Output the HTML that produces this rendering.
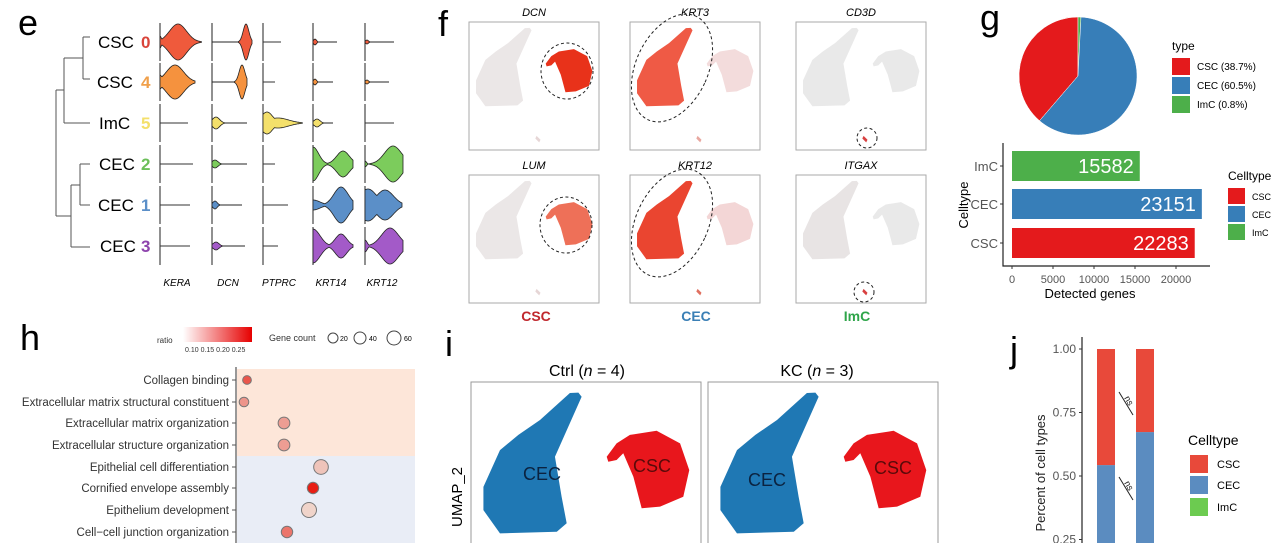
<!DOCTYPE html>
<html><head><meta charset="utf-8">
<style>
html,body{margin:0;padding:0;background:#fff;width:1280px;height:543px;overflow:hidden;}
svg{display:block;font-family:"Liberation Sans",sans-serif;overflow:hidden;}
</style></head>
<body>
<svg id="fig" width="1280" height="543" viewBox="0 0 1280 543" xmlns="http://www.w3.org/2000/svg">
<defs>
 <linearGradient id="ratioGrad" x1="0" x2="1" y1="0" y2="0"><stop offset="0" stop-color="#fff"/><stop offset="1" stop-color="#e60000"/></linearGradient>
 <path id="cecShape" d="M0.467,0.046 L0.481,0.064 L0.365,0.325 L0.394,0.499 L0.416,0.614 L0.373,0.651 L0.126,0.658 L0.054,0.557 L0.054,0.456 L0.126,0.296 L0.206,0.230 L0.3,0.165 L0.43,0.048 Z"/>
 <path id="cscShape" d="M0.590,0.325 L0.633,0.267 L0.691,0.230 L0.807,0.212 L0.909,0.267 L0.949,0.383 L0.923,0.499 L0.822,0.542 L0.742,0.549 L0.706,0.412 L0.662,0.310 L0.633,0.339 L0.597,0.347 Z"/>
 <path id="imcShape" d="M0.52,0.89 L0.55,0.92 L0.54,0.94 L0.51,0.91 Z"/>
</defs>
<!-- panel letters -->
<text x="18" y="35" font-size="36">e</text>
<text x="438" y="36" font-size="36">f</text>
<text x="980" y="30" font-size="36">g</text>
<text x="20" y="350" font-size="36">h</text>
<text x="445" y="356" font-size="36">i</text>
<text x="1010" y="362" font-size="36">j</text>

<!-- Panel e -->
<g id="panelE">
 <g stroke="#555" stroke-width="1" fill="none">
  <path d="M83,37 H90 M83,79 H90 M83,37 V79 M83,58 H64 M64,123 H90 M64,58 V123 M64,90 H56 M80,164 H90 M80,205 H90 M80,164 V205 M80,185 H71 M71,247 H90 M71,185 V247 M71,216 H56 M56,90 V216"/>
 </g>
 <g font-size="17">
  <text x="98" y="48">CSC</text><text x="141" y="48" font-weight="bold" fill="#d9453b">0</text>
  <text x="97" y="88">CSC</text><text x="141" y="88" font-weight="bold" fill="#f0a04b">4</text>
  <text x="99" y="129">ImC</text><text x="141" y="129" font-weight="bold" fill="#f4e06b">5</text>
  <text x="99" y="170">CEC</text><text x="141" y="170" font-weight="bold" fill="#6cbf5a">2</text>
  <text x="98" y="211">CEC</text><text x="141" y="211" font-weight="bold" fill="#5b8fc8">1</text>
  <text x="100" y="252">CEC</text><text x="141" y="252" font-weight="bold" fill="#8e44ad">3</text>
 </g>
 <g id="violins"></g>
 <g font-size="10" font-style="italic" text-anchor="middle">
  <text x="177" y="286">KERA</text><text x="228" y="286">DCN</text><text x="279" y="286">PTPRC</text><text x="331" y="286">KRT14</text><text x="382" y="286">KRT12</text>
 </g>
</g>

<!-- Panel f -->
<g id="panelF"></g>
<g font-size="14" font-weight="bold" text-anchor="middle">
 <text x="536" y="321" fill="#c0282d">CSC</text>
 <text x="696" y="321" fill="#3a7fb5">CEC</text>
 <text x="857" y="321" fill="#2fa54a">ImC</text>
</g>

<!-- Panel g -->
<g id="panelG">
 <g id="pie"></g>
 <text x="1172" y="50" font-size="12">type</text>
 <g font-size="10">
  <rect x="1172" y="58" width="18" height="17" fill="#e41a1c"/><text x="1197" y="70">CSC (38.7%)</text>
  <rect x="1172" y="77" width="18" height="17" fill="#377eb8"/><text x="1197" y="89">CEC (60.5%)</text>
  <rect x="1172" y="96" width="18" height="17" fill="#4daf4a"/><text x="1197" y="108">ImC (0.8%)</text>
 </g>
 <g id="barG"></g>
 <text x="1090" y="298" font-size="13" text-anchor="middle">Detected genes</text>
 <text transform="translate(968,205) rotate(-90)" font-size="13" text-anchor="middle">Celltype</text>
 <text x="1228" y="180" font-size="12">Celltype</text>
 <g font-size="9">
  <rect x="1228" y="188" width="17" height="16" fill="#e41a1c"/><text x="1252" y="200">CSC</text>
  <rect x="1228" y="206" width="17" height="16" fill="#377eb8"/><text x="1252" y="218">CEC</text>
  <rect x="1228" y="224" width="17" height="16" fill="#4daf4a"/><text x="1252" y="236">ImC</text>
 </g>
</g>

<!-- Panel h -->
<g id="panelH">
 <text x="157" y="343" font-size="8" fill="#333">ratio</text>
 <rect x="183" y="327" width="69" height="15" fill="url(#ratioGrad)"/>
 <text x="185" y="352" font-size="7" fill="#333">0.10 0.15 0.20 0.25</text>
 <text x="269" y="341" font-size="9" fill="#333">Gene count</text>
 <circle cx="333" cy="338" r="5" fill="none" stroke="#444"/><text x="340" y="341" font-size="7">20</text>
 <circle cx="360" cy="338" r="6" fill="none" stroke="#444"/><text x="369" y="341" font-size="7">40</text>
 <circle cx="394" cy="338" r="7" fill="none" stroke="#444"/><text x="404" y="341" font-size="7">60</text>
 <rect x="237" y="369" width="178" height="87" fill="#fde6d9"/>
 <rect x="237" y="456" width="178" height="87" fill="#e9edf6"/>
 <line x1="236" y1="367" x2="236" y2="543" stroke="#555" stroke-width="1.2"/>
 <g id="dots"></g>
</g>

<!-- Panel i -->
<g id="panelI">
 <text x="587" y="376" font-size="16" text-anchor="middle">Ctrl (<tspan font-style="italic">n</tspan> = 4)</text>
 <text x="817" y="376" font-size="16" text-anchor="middle">KC (<tspan font-style="italic">n</tspan> = 3)</text>
 <text transform="translate(462,497) rotate(-90)" font-size="15" text-anchor="middle">UMAP_2</text>
 <g id="umaps"></g>
</g>

<!-- Panel j -->
<g id="panelJ">
 <g id="barJ"></g>
 <text transform="translate(1045,473) rotate(-90)" font-size="13" text-anchor="middle" fill="#222">Percent of cell types</text>
 <g stroke="#222" stroke-width="1">
  <line x1="1119" y1="392" x2="1133" y2="415"/><line x1="1119" y1="477" x2="1133" y2="500"/>
 </g>
 <text transform="translate(1124,398) rotate(60)" font-size="9" fill="#222">ns</text>
 <text transform="translate(1124,483) rotate(60)" font-size="9" fill="#222">ns</text>
 <text x="1188" y="445" font-size="14">Celltype</text>
 <g font-size="11">
  <rect x="1190" y="455" width="18" height="18" fill="#e8493a"/><text x="1217" y="468">CSC</text>
  <rect x="1190" y="476" width="18" height="18" fill="#5b8cc0"/><text x="1217" y="489">CEC</text>
  <rect x="1190" y="498" width="18" height="18" fill="#6ccb50"/><text x="1217" y="511">ImC</text>
 </g>
</g>
</svg>

<script>
const NS = "http://www.w3.org/2000/svg";
function mk(tag, attrs, parent){const e=document.createElementNS(NS,tag);for(const k in attrs)e.setAttribute(k,attrs[k]);if(parent)parent.appendChild(e);return e;}
const FRAME_BOTTOM = 543;

/* ---------- Panel e: violins ---------- */
const violinRowY = [42, 82, 123, 164, 205, 246];
const violinColX = [160, 212, 263, 313, 365];
const violinColors = ["#ef5a3c", "#f5923e", "#f4e06b", "#7ccc5c", "#5b8fc8", "#a35ac8"];
const violinLen = [
 [42, 40, 18, 24, 29],
 [35, 35, 12, 20, 24],
 [28, 35, 40, 20, 29],
 [33, 35, 12, 40, 38],
 [30, 30, 25, 40, 37],
 [30, 33, 15, 40, 38]
];
const violinPeaks = [
 [[[18,18,12],[0,6,2]], [[34,18,4]], [], [[2,3,2]], [[2,2,2]]],
 [[[15,17,12],[0,7,3]], [[30,17,4]], [], [[2,3,2]], [[2,2,2]]],
 [[], [[4,6,5]], [[4,11,8],[15,5,15]], [[4,4,4]], []],
 [[], [[3,4,4]], [], [[0,17,8],[30,13,9]], [[28,18,12],[0,3,2]]],
 [[], [[3,4,3]], [], [[28,18,10],[0,5,10]], [[3,16,12],[20,15,12]]],
 [[], [[4,4,4]], [], [[0,17,10],[28,12,8]], [[25,18,12],[0,6,3]]]
];
const vg = document.getElementById('violins');
violinRowY.forEach((cy, r) => {
  violinColX.forEach((cx, c) => {
    const ax = mk('line', {x1:cx, x2:cx, y1:cy-19, y2:cy+19, stroke:'#222', 'stroke-width':1}, vg);
    
    
    const len = violinLen[r][c];
    const hl = mk('line', {x1:cx, x2:cx+len, y1:cy, y2:cy, stroke:'#333', 'stroke-width':1}, vg);
    
    
    const peaks = violinPeaks[r][c];
    if (!peaks.length) return;
    const top = [], bot = [];
    for (let t = 0; t <= len; t += 0.5) {
      let h = 0;
      peaks.forEach(p => { h = Math.max(h, p[1] * Math.exp(-Math.pow((t - p[0]) / p[2], 2))); });
      if (h < 0.4) h = 0;
      top.push([cx + t, cy - h]); bot.push([cx + t, cy + h]);
    }
    const pts = top.concat(bot.reverse()).map(p => p[0].toFixed(1) + ',' + p[1].toFixed(1)).join(' ');
    const v = mk('polygon', {points:pts, fill:violinColors[r], stroke:'#222', 'stroke-width':0.8}, vg);
    
    
  });
});

/* ---------- Panel f: feature plots ---------- */
const featureGenes = ["DCN", "KRT3", "CD3D", "LUM", "KRT12", "ITGAX"];
const featureBoxX = [469, 630, 796, 469, 630, 796];
const featureBoxY = [22, 22, 22, 175, 175, 175];
const featureCec = ["#ebe7e7", "#ef5a45", "#e9e9e9", "#ebe7e7", "#ea4530", "#e8e4e4"];
const featureCsc = ["#e8321a", "#f3dcdc", "#e9e9e9", "#ee7058", "#f3d6d6", "#e9e9e9"];
const featureImc = ["#e6d6d6", "#e8a8a0", "#d84040", "#e6d6d6", "#e07060", "#d84040"];
const fg = document.getElementById('panelF');
featureGenes.forEach((g, i) => {
  const x0 = featureBoxX[i], y0 = featureBoxY[i], w = 130, h = 128;
  const t = mk('text', {x:x0 + w/2, y:y0 - 6, 'font-size':11, 'font-style':'italic', 'text-anchor':'middle'}, fg);
  t.textContent = g;
  
  
  const box = mk('rect', {x:x0, y:y0, width:w, height:h, fill:'#fff', stroke:'#aaa', 'stroke-width':1}, fg);
  
  
  const grp = mk('g', {transform:`translate(${x0},${y0}) scale(${w},${h})`}, fg);
  mk('use', {href:'#cecShape', fill:featureCec[i]}, grp);
  mk('use', {href:'#cscShape', fill:featureCsc[i]}, grp);
  mk('use', {href:'#imcShape', fill:featureImc[i]}, grp);
});
const ellipses = [
  [567, 71, 26, 28, 0], [672, 68, 36, 57, 25], [867, 138, 10, 10, 0],
  [566, 225, 26, 28, 0], [672, 223, 36, 57, 25], [864, 292, 10, 10, 0]
];
ellipses.forEach(e => {
  const el = mk('ellipse', {cx:e[0], cy:e[1], rx:e[2], ry:e[3], transform:`rotate(${e[4]},${e[0]},${e[1]})`, fill:'none', stroke:'#222', 'stroke-width':1, 'stroke-dasharray':'3,2.5'}, fg);
  
  
});

/* ---------- Panel g: pie ---------- */
const pieLabels = ["CSC", "CEC", "ImC"];
const pieValues = [38.7, 60.5, 0.8];
const pieColors = ["#e41a1c", "#377eb8", "#4daf4a"];
const pg = document.getElementById('pie');
const pcx = 1078, pcy = 76, pr = 59;
const total = pieValues.reduce((a, b) => a + b, 0);
const order = [[0, -1], [2, 1], [1, 1]];
let cw = 0;
order.forEach(([idx, dir]) => {
  const sweep = pieValues[idx] / total * 2 * Math.PI;
  let a0, a1;
  if (dir < 0) { a0 = -sweep; a1 = 0; }
  else { a0 = cw; a1 = cw + sweep; cw = a1; }
  const p0 = [pcx + pr * Math.sin(a0), pcy - pr * Math.cos(a0)];
  const p1 = [pcx + pr * Math.sin(a1), pcy - pr * Math.cos(a1)];
  const large = (a1 - a0) > Math.PI ? 1 : 0;
  const s = mk('path', {d:`M${pcx},${pcy} L${p0[0]},${p0[1]} A${pr},${pr} 0 ${large} 1 ${p1[0]},${p1[1]} Z`, fill:pieColors[idx], stroke:'#fff', 'stroke-width':0.5}, pg);
  
  
});

/* ---------- Panel g: bar chart ---------- */
const barCats = ["ImC", "CEC", "CSC"];
const barValues = [15582, 23151, 22283];
const barColors = ["#4daf4a", "#377eb8", "#e41a1c"];
const barTicks = [0, 5000, 10000, 15000, 20000];
const bg = document.getElementById('barG');
const gx = v => 1012 + v * (164 / 20000);
const barTop = [151, 189, 228], barH = 30;
barCats.forEach((c, i) => {
  const r = mk('rect', {x:gx(0), y:barTop[i], width:gx(barValues[i]) - gx(0), height:barH, fill:barColors[i]}, bg);
  
  
  const t = mk('text', {x:gx(barValues[i]) - 6, y:barTop[i] + 22, 'font-size':20, fill:'#fff', 'text-anchor':'end'}, bg);
  t.textContent = barValues[i];
  
  
  const yl = mk('text', {x:998, y:barTop[i] + 20, 'font-size':13, fill:'#555', 'text-anchor':'end'}, bg);
  yl.textContent = c;
  
  
  mk('line', {x1:1000, x2:1003, y1:barTop[i] + 15, y2:barTop[i] + 15, stroke:'#333'}, bg);
});
mk('path', {d:'M1003,143 V266 H1210', fill:'none', stroke:'#222', 'stroke-width':1.2}, bg);
barTicks.forEach(v => {
  mk('line', {x1:gx(v), x2:gx(v), y1:266, y2:269, stroke:'#333'}, bg);
  const t = mk('text', {x:gx(v), y:283, 'font-size':11, fill:'#555', 'text-anchor':'middle'}, bg);
  t.textContent = v;
  
  
});

/* ---------- Panel h: dot plot ---------- */
const goTerms = ["Collagen binding", "Extracellular matrix structural constituent", "Extracellular matrix organization", "Extracellular structure organization", "Epithelial cell differentiation", "Cornified envelope assembly", "Epithelium development", "Cell\u2212cell junction organization"];
const goX = [247, 244, 284, 284, 321, 313, 309, 287];
const goCount = [15, 20, 32, 32, 48, 30, 50, 30];
const goRatio = [0.2, 0.12, 0.11, 0.11, 0.06, 0.27, 0.04, 0.16];
const goRowY = [380, 402, 423, 445, 467, 488, 510, 532];
const dg = document.getElementById('dots');
const rad = n => 3 + n * 0.09;
const ratioCol = r => { const f = Math.max(0, Math.min(1, (r - 0.03) / 0.24)); const g = Math.round(220 - 190 * f), b = Math.round(210 - 190 * f); return `rgb(${Math.round(240 - 8 * f)},${g},${b})`; };
goTerms.forEach((term, i) => {
  const y = goRowY[i];
  const t = mk('text', {x:229, y:y + 4, 'font-size':11.5, fill:'#333', 'text-anchor':'end'}, dg);
  t.textContent = term;
  
  
  mk('line', {x1:232, x2:236, y1:y, y2:y, stroke:'#555'}, dg);
  const c = mk('circle', {cx:goX[i], cy:y, r:rad(goCount[i]), fill:ratioCol(goRatio[i]), stroke:'#777', 'stroke-width':1}, dg);
  
  
});

/* ---------- Panel i: UMAPs ---------- */
const umapBoxX = [471, 708];
const umapNames = ["ctrl", "kc"];
const umapCecLabel = [[542, 480], [767, 486]];
const umapCscLabel = [[652, 472], [893, 474]];
const ug = document.getElementById('umaps');
umapBoxX.forEach((x0, i) => {
  const b = mk('path', {d:`M${x0},${FRAME_BOTTOM} V382 H${x0 + 230} V${FRAME_BOTTOM}`, fill:'none', stroke:'#999', 'stroke-width':1}, ug);
  
  
  const grp = mk('g', {transform:`translate(${x0},382) scale(230,230)`}, ug);
  mk('use', {href:'#cecShape', fill:'#1f78b4'}, grp);
  mk('use', {href:'#cscShape', fill:'#e8161c'}, grp);
  const a = mk('text', {x:umapCecLabel[i][0], y:umapCecLabel[i][1], 'font-size':18, fill:'#0b2340', 'text-anchor':'middle'}, ug);
  a.textContent = 'CEC';
  
  
  const s = mk('text', {x:umapCscLabel[i][0], y:umapCscLabel[i][1], 'font-size':18, fill:'#5a0a0a', 'text-anchor':'middle'}, ug);
  s.textContent = 'CSC';
  
  
});

/* ---------- Panel j: stacked proportions ---------- */
const jGroups = ["Ctrl", "KC"];
const jCEC = [0.543, 0.673];
const jCSC = [0.457, 0.327];
const jTicks = [0.25, 0.5, 0.75, 1.0];
const jTickLabels = ["0.25", "0.50", "0.75", "1.00"];
const jBarX = [1097, 1136];
const jy = v => 349 + (1 - v) * 254;
const jg = document.getElementById('barJ');
jGroups.forEach((g, i) => {
  const yTop = jy(jCEC[i]);
  const yBot = Math.min(jy(0), FRAME_BOTTOM);
  const cec = mk('rect', {x:jBarX[i], y:yTop, width:18, height:Math.max(0, yBot - yTop), fill:'#5b8cc0'}, jg);
  
  
  const csc = mk('rect', {x:jBarX[i], y:jy(jCEC[i] + jCSC[i]), width:18, height:jy(jCEC[i]) - jy(jCEC[i] + jCSC[i]), fill:'#e8493a'}, jg);
  
  
});
mk('line', {x1:1082, x2:1082, y1:337, y2:543, stroke:'#222', 'stroke-width':1.2}, jg);
jTicks.forEach((v, k) => {
  mk('line', {x1:1079, x2:1082, y1:jy(v), y2:jy(v), stroke:'#333'}, jg);
  const t = mk('text', {x:1076, y:jy(v) + 4, 'font-size':12, fill:'#555', 'text-anchor':'end'}, jg);
  t.textContent = jTickLabels[k];
  
  
});
</script>
</body></html>
